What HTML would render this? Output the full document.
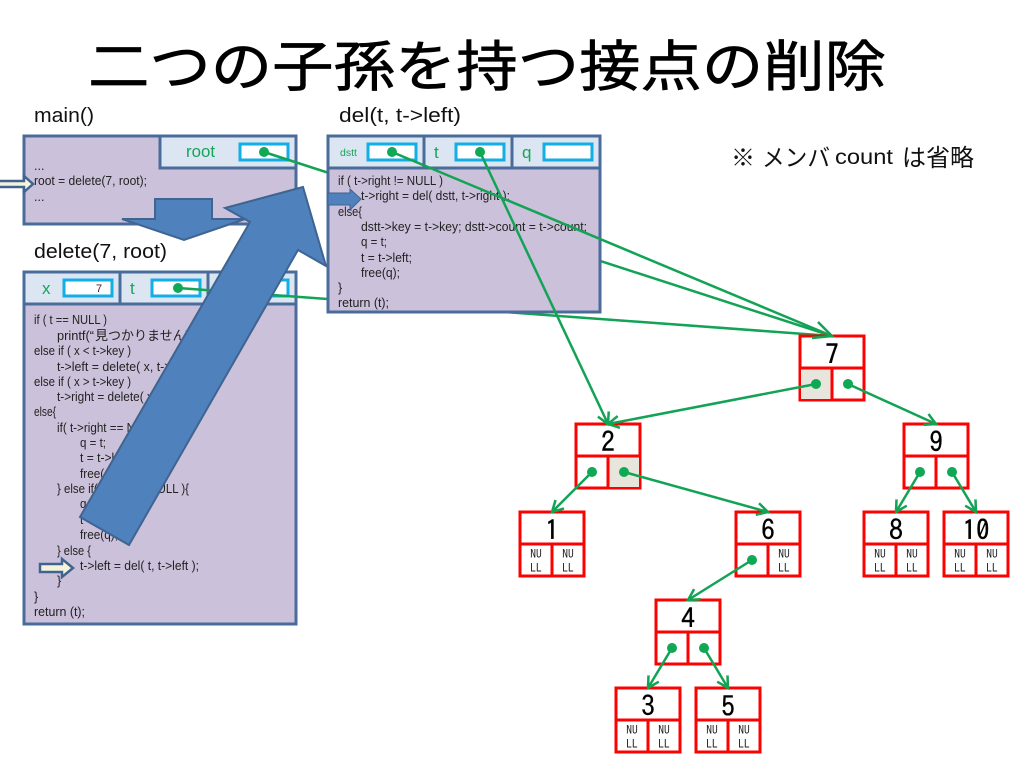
<!DOCTYPE html>
<html><head><meta charset="utf-8"><style>
html,body{margin:0;padding:0;background:#fff}
svg{display:block}
.c{font-family:"Liberation Sans","Noto Sans CJK JP",sans-serif;font-size:12.5px;fill:#222}
.h{font-family:"Liberation Sans",sans-serif;font-size:20px;fill:#111}
.g{font-family:"Liberation Sans",sans-serif;font-size:17px;fill:#17a35a}
.n{font-family:"IPAGothic",monospace;font-size:27px;fill:#000;stroke:#000;stroke-width:.4;text-anchor:middle}
.s{font-family:"IPAGothic",monospace;font-size:11.5px;fill:#222;text-anchor:middle}
.box{fill:#ccc1da;stroke:#4a6c9b;stroke-width:3}
.hd{fill:#dce6f2;stroke:#4a6c9b;stroke-width:3}
.in{fill:#fff;stroke:#12aee6;stroke-width:3}
.nd{fill:#fff;stroke:#f00;stroke-width:3}
.ln{stroke:#f00;stroke-width:3;fill:none}
.a{stroke:#12a355;stroke-width:2.5;fill:none}
.m{stroke:#12a355;stroke-width:2.5;fill:none;marker-end:url(#ah)}
.d{fill:#0fa855}
.ba{fill:#4f81bd;stroke:#3f6490;stroke-width:2}
.ha{fill:#f6f3dc;stroke:#3f6490;stroke-width:3}
</style></head><body>
<svg width="1024" height="768" viewBox="0 0 1024 768" xmlns="http://www.w3.org/2000/svg">
<defs><marker id="ah" markerUnits="userSpaceOnUse" markerWidth="18" markerHeight="18" refX="14" refY="9" orient="auto"><path d="M3 3 L14 9 L3 15" fill="none" stroke="#12a355" stroke-width="2.5"/></marker></defs>

<text transform="translate(88,86) scale(1,.9)" x="0" y="0" textLength="798" lengthAdjust="spacingAndGlyphs" style="font-family:'Liberation Sans','Noto Sans CJK JP',sans-serif;font-size:61px;fill:#000;stroke:#000;stroke-width:.7">二つの子孫を持つ接点の削除</text>

<text class="h" x="34" y="122" textLength="60" lengthAdjust="spacingAndGlyphs">main()</text>
<text class="h" x="34" y="258" textLength="133" lengthAdjust="spacingAndGlyphs">delete(7, root)</text>
<text class="h" x="339" y="122" textLength="122" lengthAdjust="spacingAndGlyphs">del(t,  t-&gt;left)</text>
<g style="font-family:'Liberation Sans','Noto Sans CJK JP',sans-serif;fill:#111">
<text x="731" y="166" style="font-size:24px">※</text>
<text x="762" y="166" style="font-size:24px" textLength="68" lengthAdjust="spacingAndGlyphs">メンバ</text>
<text x="835" y="164" style="font-size:21px" textLength="58" lengthAdjust="spacingAndGlyphs">count</text>
<text x="902" y="166" style="font-size:24px">は省略</text>
</g>

<!-- main -->
<rect class="box" x="24" y="136" width="272" height="88"/>
<rect class="hd" x="160" y="136" width="136" height="32"/>
<text class="g" x="186" y="157" textLength="29" lengthAdjust="spacingAndGlyphs">root</text>
<rect class="in" x="240" y="144" width="48" height="16"/>
<text class="c" x="34" y="170">...</text>
<text class="c" x="34" y="185" textLength="113" lengthAdjust="spacingAndGlyphs">root = delete(7, root);</text>
<text class="c" x="34" y="201">...</text>
<polygon class="ba" points="155,199 212,199 212,219 245,219 184,240 122,219 155,219"/>
<polygon class="ha" points="-3,181 24,181 24,176 33,184 24,192 24,187 -3,187" style="stroke-width:2.5"/>

<!-- delete -->
<rect class="box" x="24" y="272" width="272" height="352"/>
<rect class="hd" x="24" y="272" width="96" height="32"/>
<rect class="hd" x="120" y="272" width="88" height="32"/>
<rect class="hd" x="208" y="272" width="88" height="32"/>
<text class="g" x="42" y="294">x</text>
<text class="g" x="130" y="294">t</text>
<rect class="in" x="64" y="280" width="48" height="16"/>
<rect class="in" x="152" y="280" width="48" height="16"/>
<rect class="in" x="240" y="280" width="48" height="16"/>
<text x="96" y="292" style="font-family:'Liberation Sans',sans-serif;font-size:11px;fill:#422">7</text>
<text class="c" x="34" y="324" textLength="73" lengthAdjust="spacingAndGlyphs">if ( t == NULL )</text>
<text class="c" x="57" y="340" textLength="37" lengthAdjust="spacingAndGlyphs">printf(“</text>
<text class="c" x="95" y="340" style="font-size:13px">見つかりません\n”);</text>
<text class="c" x="34" y="355" textLength="97" lengthAdjust="spacingAndGlyphs">else if ( x &lt; t-&gt;key )</text>
<text class="c" x="57" y="371" textLength="142" lengthAdjust="spacingAndGlyphs">t-&gt;left = delete( x, t-&gt;left );</text>
<text class="c" x="34" y="386" textLength="97" lengthAdjust="spacingAndGlyphs">else if ( x &gt; t-&gt;key )</text>
<text class="c" x="57" y="401" textLength="150" lengthAdjust="spacingAndGlyphs">t-&gt;right = delete( x, t-&gt;right );</text>
<text class="c" x="34" y="416" textLength="22" lengthAdjust="spacingAndGlyphs">else{</text>
<text class="c" x="57" y="432" textLength="110" lengthAdjust="spacingAndGlyphs">if( t-&gt;right == NULL ){</text>
<text class="c" x="80" y="447" textLength="26" lengthAdjust="spacingAndGlyphs">q = t;</text>
<text class="c" x="80" y="462" textLength="51" lengthAdjust="spacingAndGlyphs">t = t-&gt;left;</text>
<text class="c" x="80" y="478" textLength="38" lengthAdjust="spacingAndGlyphs">free(q);</text>
<text class="c" x="57" y="493" textLength="132" lengthAdjust="spacingAndGlyphs">} else if( t-&gt;left == NULL ){</text>
<text class="c" x="80" y="508" textLength="26" lengthAdjust="spacingAndGlyphs">q = t;</text>
<text class="c" x="80" y="524" textLength="56" lengthAdjust="spacingAndGlyphs">t = t-&gt;right;</text>
<text class="c" x="80" y="539" textLength="38" lengthAdjust="spacingAndGlyphs">free(q);</text>
<text class="c" x="57" y="555" textLength="34" lengthAdjust="spacingAndGlyphs">} else {</text>
<text class="c" x="80" y="570" textLength="119" lengthAdjust="spacingAndGlyphs">t-&gt;left = del( t, t-&gt;left );</text>
<text class="c" x="57" y="585">}</text>
<text class="c" x="34" y="601">}</text>
<text class="c" x="34" y="616" textLength="51" lengthAdjust="spacingAndGlyphs">return (t);</text>
<polygon class="ha" points="40,564 62,564 62,559 73,568 62,577 62,572 40,572" style="stroke-width:2.5"/>

<!-- lines behind del -->
<line class="a" x1="264" y1="152" x2="832" y2="336"/>
<line class="a" x1="178" y1="288" x2="832" y2="336"/>
<circle class="d" cx="264" cy="152" r="5"/>
<circle class="d" cx="178" cy="288" r="5"/>

<!-- big arrow -->
<polygon class="ba" points="303,187 326,266 298,250 129,545 80,517 250,222 225,208"/>

<!-- del -->
<rect class="box" x="328" y="136" width="272" height="176"/>
<rect class="hd" x="328" y="136" width="96" height="32"/>
<rect class="hd" x="424" y="136" width="88" height="32"/>
<rect class="hd" x="512" y="136" width="88" height="32"/>
<text class="g" x="340" y="156" style="font-size:10.5px" textLength="17" lengthAdjust="spacingAndGlyphs">dstt</text>
<text class="g" x="434" y="158">t</text>
<text class="g" x="522" y="158">q</text>
<rect class="in" x="368" y="144" width="48" height="16"/>
<rect class="in" x="456" y="144" width="48" height="16"/>
<rect class="in" x="544" y="144" width="48" height="16"/>
<text class="c" x="338" y="185" textLength="105" lengthAdjust="spacingAndGlyphs">if ( t-&gt;right != NULL )</text>
<text class="c" x="361" y="200" textLength="149" lengthAdjust="spacingAndGlyphs">t-&gt;right = del( dstt, t-&gt;right );</text>
<text class="c" x="338" y="216" textLength="24" lengthAdjust="spacingAndGlyphs">else{</text>
<text class="c" x="361" y="231" textLength="226" lengthAdjust="spacingAndGlyphs">dstt-&gt;key = t-&gt;key;   dstt-&gt;count = t-&gt;count;</text>
<text class="c" x="361" y="246" textLength="26" lengthAdjust="spacingAndGlyphs">q = t;</text>
<text class="c" x="361" y="262" textLength="51" lengthAdjust="spacingAndGlyphs">t = t-&gt;left;</text>
<text class="c" x="361" y="277" textLength="39" lengthAdjust="spacingAndGlyphs">free(q);</text>
<text class="c" x="338" y="292">}</text>
<text class="c" x="338" y="307" textLength="51" lengthAdjust="spacingAndGlyphs">return (t);</text>
<polygon points="328,193 350,193 350,189 361,199 350,210 350,205 328,205" style="fill:#4f81bd;stroke:#3f6490;stroke-width:1"/>

<!-- nodes -->
<rect class="nd" x="800" y="336" width="64" height="64"/><rect x="801" y="369" width="31" height="30" fill="#e8e6dc"/><path class="ln" d="M800 368H864M832 368V400"/><text class="n" x="832" y="364">7</text>
<rect class="nd" x="576" y="424" width="64" height="64"/><rect x="608" y="457" width="31" height="30" fill="#e8e6dc"/><path class="ln" d="M576 456H640M608 456V488"/><text class="n" x="608" y="452">2</text>
<rect class="nd" x="904" y="424" width="64" height="64"/><path class="ln" d="M904 456H968M936 456V488"/><text class="n" x="936" y="452">9</text>
<rect class="nd" x="736" y="512" width="64" height="64"/><path class="ln" d="M736 544H800M768 544V576"/><text class="n" x="768" y="540">6</text>
<rect class="nd" x="656" y="600" width="64" height="64"/><path class="ln" d="M656 632H720M688 632V664"/><text class="n" x="688" y="628">4</text>

<rect class="nd" x="520" y="512" width="64" height="64"/><path class="ln" d="M520 544H584M552 544V576"/><text class="n" x="552" y="540">1</text>
<text class="s" x="536" y="558">NU</text><text class="s" x="536" y="572">LL</text><text class="s" x="568" y="558">NU</text><text class="s" x="568" y="572">LL</text>
<text class="s" x="784" y="558">NU</text><text class="s" x="784" y="572">LL</text>
<rect class="nd" x="864" y="512" width="64" height="64"/><path class="ln" d="M864 544H928M896 544V576"/><text class="n" x="896" y="540">8</text>
<text class="s" x="880" y="558">NU</text><text class="s" x="880" y="572">LL</text><text class="s" x="912" y="558">NU</text><text class="s" x="912" y="572">LL</text>
<rect class="nd" x="944" y="512" width="64" height="64"/><path class="ln" d="M944 544H1008M976 544V576"/><text class="n" x="976" y="540">10</text>
<text class="s" x="960" y="558">NU</text><text class="s" x="960" y="572">LL</text><text class="s" x="992" y="558">NU</text><text class="s" x="992" y="572">LL</text>
<rect class="nd" x="616" y="688" width="64" height="64"/><path class="ln" d="M616 720H680M648 720V752"/><text class="n" x="648" y="716">3</text>
<text class="s" x="632" y="734">NU</text><text class="s" x="632" y="748">LL</text><text class="s" x="664" y="734">NU</text><text class="s" x="664" y="748">LL</text>
<rect class="nd" x="696" y="688" width="64" height="64"/><path class="ln" d="M696 720H760M728 720V752"/><text class="n" x="728" y="716">5</text>
<text class="s" x="712" y="734">NU</text><text class="s" x="712" y="748">LL</text><text class="s" x="744" y="734">NU</text><text class="s" x="744" y="748">LL</text>

<!-- connectors -->
<line class="a" x1="392" y1="152" x2="832" y2="336"/>
<path d="M818 322 L832 336 L812 338" fill="none" stroke="#12a355" stroke-width="2.5"/>
<line class="m" x1="480" y1="152" x2="608" y2="424"/>
<line class="m" x1="816" y1="384" x2="608" y2="424"/>
<line class="m" x1="848" y1="384" x2="936" y2="424"/>
<line class="m" x1="592" y1="472" x2="552" y2="512"/>
<line class="m" x1="624" y1="472" x2="768" y2="512"/>
<line class="m" x1="920" y1="472" x2="896" y2="512"/>
<line class="m" x1="952" y1="472" x2="976" y2="512"/>
<line class="m" x1="752" y1="560" x2="688" y2="600"/>
<line class="m" x1="672" y1="648" x2="648" y2="688"/>
<line class="m" x1="704" y1="648" x2="728" y2="688"/>
<g class="d">
<circle cx="392" cy="152" r="5"/><circle cx="480" cy="152" r="5"/>
<circle cx="816" cy="384" r="5"/><circle cx="848" cy="384" r="5"/>
<circle cx="592" cy="472" r="5"/><circle cx="624" cy="472" r="5"/>
<circle cx="920" cy="472" r="5"/><circle cx="952" cy="472" r="5"/>
<circle cx="752" cy="560" r="5"/>
<circle cx="672" cy="648" r="5"/><circle cx="704" cy="648" r="5"/>
</g>
</svg>
</body></html>
